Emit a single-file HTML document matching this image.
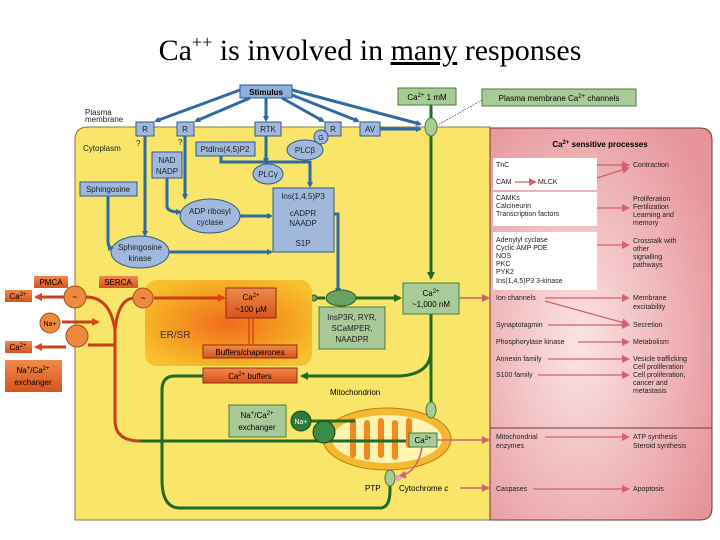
<!DOCTYPE html>
<html><head><meta charset="utf-8"><style>
html,body{margin:0;padding:0;background:#fff;}
svg{display:block;font-family:"Liberation Sans",sans-serif;}
</style></head><body>
<svg width="720" height="540" viewBox="0 0 720 540" xmlns="http://www.w3.org/2000/svg">
<defs>
<radialGradient id="er" cx="0.5" cy="0.5" r="0.6"><stop offset="0" stop-color="#f06a20"/><stop offset="0.6" stop-color="#f5a020"/><stop offset="1" stop-color="#f8c030"/></radialGradient>
<radialGradient id="pk" cx="0.4" cy="0.55" r="0.7"><stop offset="0" stop-color="#fbe4e4"/><stop offset="1" stop-color="#e6949a"/></radialGradient>
<linearGradient id="ob" x1="0" y1="0" x2="0" y2="1"><stop offset="0" stop-color="#f08a4a"/><stop offset="1" stop-color="#d8521c"/></linearGradient>
<marker id="ab" markerWidth="6" markerHeight="6" refX="4" refY="3" orient="auto" markerUnits="userSpaceOnUse"><path d="M0,0L6,3L0,6z" fill="#2e6ba3"/></marker>
<marker id="ag" markerWidth="8" markerHeight="8" refX="6" refY="4" orient="auto" markerUnits="userSpaceOnUse"><path d="M0,0L8,4L0,8z" fill="#1f6a24"/></marker>
<marker id="ao" markerWidth="8" markerHeight="8" refX="6" refY="4" orient="auto" markerUnits="userSpaceOnUse"><path d="M0,0L8,4L0,8z" fill="#d8461a"/></marker>
<marker id="ap" markerWidth="8" markerHeight="8" refX="6" refY="4" orient="auto" markerUnits="userSpaceOnUse"><path d="M0,0L8,4L0,8z" fill="#d86070"/></marker>
</defs>
<text x="370" y="60" font-family="Liberation Serif,serif" font-size="30" text-anchor="middle">Ca<tspan dy="-12" font-size="18">++</tspan><tspan dy="12"> is involved in </tspan><tspan text-decoration="underline">many</tspan> responses</text>

<!-- cell -->
<path d="M88,127 H490 V520 H75 V140 Q75,127 88,127z" fill="#f8e56a" stroke="#8a7a40" stroke-width="1"/>
<path d="M490,128 H700 Q712,128 712,140 V508 Q712,520 700,520 H490z" fill="url(#pk)" stroke="#6a3a3a" stroke-width="1"/>
<line x1="490" y1="428" x2="712" y2="428" stroke="#6a3a3a" stroke-width="1"/>
<text x="600" y="147" font-size="8" font-weight="bold" text-anchor="middle">Ca<tspan dy="-3" font-size="6">2+</tspan><tspan dy="3"> sensitive processes</tspan></text>
<rect x="493" y="158" width="104" height="32" fill="#fff"/>
<rect x="493" y="192" width="104" height="34" fill="#fff"/>
<rect x="493" y="232" width="104" height="58" fill="#fff"/>
<g font-size="7" fill="#222">
<text x="496" y="167">TnC</text><text x="496" y="184">CAM</text><text x="538" y="184">MLCK</text>
<text x="496" y="200">CAMKs</text><text x="496" y="208">Calcineurin</text><text x="496" y="216">Transcription factors</text>
<text x="496" y="242">Adenylyl cyclase</text><text x="496" y="250">Cyclic AMP PDE</text><text x="496" y="258">NOS</text><text x="496" y="266">PKC</text><text x="496" y="274">PYK2</text><text x="496" y="283">Ins(1,4,5)P3 3-kinase</text>
<text x="496" y="300">Ion channels</text><text x="496" y="327">Synaptotagmin</text><text x="496" y="344">Phosphorylase kinase</text><text x="496" y="361">Annexin family</text><text x="496" y="377">S100 family</text>
<text x="496" y="439">Mitochondrial</text><text x="496" y="448">enzymes</text><text x="496" y="491">Caspases</text>
<text x="633" y="167">Contraction</text>
<text x="633" y="201">Proliferation</text><text x="633" y="209">Fertilization</text><text x="633" y="217">Learning and</text><text x="633" y="225">memory</text>
<text x="633" y="243">Crosstalk with</text><text x="633" y="251">other</text><text x="633" y="259">signalling</text><text x="633" y="267">pathways</text>
<text x="633" y="300">Membrane</text><text x="633" y="309">excitability</text><text x="633" y="327">Secretion</text><text x="633" y="344">Metabolism</text>
<text x="633" y="361">Vesicle trafficking</text><text x="633" y="369">Cell proliferation</text>
<text x="633" y="377">Cell proliferation,</text><text x="633" y="385">cancer and</text><text x="633" y="393">metastasis</text>
<text x="633" y="439">ATP synthesis</text><text x="633" y="448">Steroid synthesis</text><text x="633" y="491">Apoptosis</text>
</g>
<g stroke="#d06070" stroke-width="1.2" marker-end="url(#ap)">
<line x1="597" y1="165" x2="628" y2="165"/><line x1="597" y1="178" x2="628" y2="168"/><line x1="515" y1="182" x2="535" y2="182"/>
<line x1="597" y1="208" x2="628" y2="208"/><line x1="597" y1="245" x2="628" y2="245"/>
<line x1="545" y1="298" x2="628" y2="298"/><line x1="545" y1="301" x2="628" y2="324"/><line x1="548" y1="325" x2="628" y2="325"/>
<line x1="578" y1="342" x2="628" y2="342"/><line x1="548" y1="359" x2="628" y2="359"/><line x1="538" y1="375" x2="628" y2="375"/>
<line x1="545" y1="437" x2="628" y2="437"/><line x1="533" y1="489" x2="628" y2="489"/>
</g>

<!-- top -->
<rect x="240" y="85" width="52" height="13" fill="#8fb0d8" stroke="#2e5a8a"/><text x="266" y="95" font-size="8" font-weight="bold" text-anchor="middle">Stimulus</text>
<g fill="#a0b8dc" stroke="#2e5a8a">
<rect x="136" y="122" width="18" height="14"/><rect x="177" y="122" width="17" height="14"/><rect x="255" y="122" width="26" height="14"/><rect x="325" y="122" width="16" height="14"/><rect x="360" y="122" width="20" height="14"/>
<rect x="196" y="142" width="59" height="14"/><rect x="152" y="152" width="30" height="26"/><rect x="80" y="182" width="57" height="14"/><rect x="273" y="188" width="61" height="64"/>
<ellipse cx="305" cy="150" rx="18" ry="10"/><circle cx="321" cy="137" r="7"/><ellipse cx="268" cy="174" rx="15" ry="10"/>
<ellipse cx="210" cy="216" rx="30" ry="17"/><ellipse cx="140" cy="252" rx="29" ry="16"/>
</g>
<g font-size="8" text-anchor="middle" fill="#222">
<text x="145" y="132">R</text><text x="185" y="132">R</text><text x="268" y="132">RTK</text><text x="333" y="132">R</text><text x="370" y="132">AV</text>
<text x="225" y="152">PtdIns(4,5)P2</text><text x="167" y="163">NAD</text><text x="167" y="174">NADP</text><text x="108" y="192">Sphingosine</text>
<text x="303" y="199">Ins(1,4,5)P3</text><text x="303" y="216">cADPR</text><text x="303" y="226">NAADP</text><text x="303" y="246">S1P</text>
<text x="305" y="153">PLCβ</text><text x="321" y="140" font-size="7">G</text><text x="268" y="177">PLCγ</text>
<text x="210" y="214">ADP ribosyl</text><text x="210" y="225">cyclase</text><text x="140" y="250">Sphingosine</text><text x="140" y="261">kinase</text>
</g>
<g font-size="8" fill="#222"><text x="85" y="115">Plasma</text><text x="85" y="122">membrane</text><text x="83" y="151">Cytoplasm</text><text x="136" y="146">?</text><text x="178" y="145">?</text></g>
<g stroke="#2e6ba3" stroke-width="3" fill="none" marker-end="url(#ab)">
<line x1="240" y1="90" x2="156" y2="121"/><line x1="250" y1="98" x2="196" y2="121"/><line x1="266" y1="98" x2="266" y2="120"/><line x1="282" y1="98" x2="323" y2="121"/><line x1="292" y1="95" x2="358" y2="121"/><line x1="292" y1="90" x2="420" y2="124"/>
<line x1="380" y1="129" x2="420" y2="129"/><line x1="266" y1="136" x2="266" y2="162"/>
<path d="M221,156 V162 H310 V186"/><line x1="145" y1="136" x2="145" y2="235"/><line x1="185" y1="136" x2="185" y2="198"/>
<path d="M167,178 V206 Q167,212 180,212"/><line x1="240" y1="216" x2="271" y2="216"/>
<path d="M108,196 V240 Q108,248 112,248"/><line x1="169" y1="252" x2="271" y2="252"/><path d="M334,214 H338 V292"/>
</g>

<!-- green channel -->
<rect x="398" y="88" width="58" height="17" fill="#a8cc98" stroke="#4a7a3a"/><text x="427" y="100" font-size="8" text-anchor="middle">Ca<tspan dy="-3" font-size="6">2+</tspan><tspan dy="3"> 1 mM</tspan></text>
<rect x="482" y="89" width="154" height="17" fill="#a8cc98" stroke="#4a7a3a"/><text x="559" y="101" font-size="8" text-anchor="middle">Plasma membrane Ca<tspan dy="-3" font-size="6">2+</tspan><tspan dy="3"> channels</tspan></text>
<line x1="436" y1="126" x2="482" y2="100" stroke="#333" stroke-width="0.6" stroke-dasharray="2,1"/>
<g stroke="#1f6a24" stroke-width="3" fill="none">
<line x1="431" y1="105" x2="431" y2="120"/><line x1="431" y1="135" x2="431" y2="278" marker-end="url(#ag)"/>
<line x1="355" y1="298" x2="400" y2="298" marker-end="url(#ag)"/><line x1="280" y1="298" x2="325" y2="298"/>
<path d="M431,314 V350 Q431,374 400,376 H302" marker-end="url(#ag)"/>
<path d="M431,314 V430" marker-end="url(#ag)"/>
<path d="M203,376 H175 Q162,376 162,390 V480 Q162,508 180,508 H380 Q390,508 390,490 V460 Q390,441 405,441" />
<line x1="140" y1="441" x2="406" y2="441"/>
<line x1="311" y1="421" x2="360" y2="421" marker-end="url(#ag)"/>
</g>
<ellipse cx="431" cy="127" rx="6" ry="9" fill="#a8cc98" stroke="#4a7a3a"/>
<ellipse cx="341" cy="298" rx="15" ry="8" fill="#6aa060" stroke="#2a5a2a"/><circle cx="314" cy="298" r="3" fill="#6aa060" stroke="#2a5a2a"/>
<rect x="319" y="307" width="66" height="42" fill="#a8c898" stroke="#4a7a3a"/>
<g font-size="8" text-anchor="middle" fill="#222"><text x="352" y="320">InsP3R, RYR,</text><text x="352" y="331">SCaMPER,</text><text x="352" y="342">NAADPR</text></g>
<rect x="403" y="283" width="56" height="31" fill="#a8cc98" stroke="#4a7a3a"/>
<text x="431" y="296" font-size="8" text-anchor="middle">Ca<tspan dy="-3" font-size="6">2+</tspan></text><text x="431" y="307" font-size="8" text-anchor="middle">~1,000 nM</text>
<line x1="459" y1="298" x2="488" y2="298" stroke="#d06070" stroke-width="1.5" marker-end="url(#ap)"/>

<!-- ER -->
<rect x="145" y="280" width="167" height="86" rx="12" fill="url(#er)"/>
<text x="160" y="338" font-size="10" fill="#333">ER/SR</text>
<rect x="226" y="288" width="50" height="30" fill="url(#ob)" stroke="#8a3010"/>
<text x="251" y="300" font-size="8" text-anchor="middle">Ca<tspan dy="-3" font-size="6">2+</tspan></text><text x="251" y="312" font-size="8" text-anchor="middle">~100 μM</text>
<rect x="203" y="345" width="94" height="13" fill="url(#ob)" stroke="#8a3010"/><text x="250" y="355" font-size="8" text-anchor="middle">Buffers/chaperones</text>
<line x1="249" y1="318" x2="249" y2="344" stroke="#d8461a" stroke-width="1.5"/><line x1="253" y1="318" x2="253" y2="344" stroke="#d8461a" stroke-width="1.5"/>
<rect x="203" y="368" width="94" height="15" fill="url(#ob)" stroke="#8a3010"/><text x="250" y="379" font-size="8" text-anchor="middle">Ca<tspan dy="-3" font-size="6">2+</tspan><tspan dy="3"> buffers</tspan></text>
<g stroke="#c8401a" stroke-width="3" fill="none">
<line x1="154" y1="298" x2="224" y2="298" marker-end="url(#ao)"/>
<line x1="64" y1="297" x2="36" y2="297" marker-end="url(#ao)"/>
<line x1="62" y1="322" x2="98" y2="322" marker-end="url(#ao)"/>
<line x1="66" y1="347" x2="36" y2="347" marker-end="url(#ao)"/>
<path d="M86,297 Q110,297 115,330 V420 Q115,441 140,441"/>
<path d="M133,298 Q118,300 115,330"/>
<line x1="88" y1="345" x2="115" y2="345"/>
</g>
<rect x="34" y="276" width="34" height="12" fill="url(#ob)"/><text x="51" y="285" font-size="8" text-anchor="middle">PMCA</text>
<rect x="99" y="276" width="39" height="12" fill="url(#ob)"/><text x="118" y="285" font-size="8" text-anchor="middle">SERCA</text>
<rect x="5" y="290" width="27" height="12" fill="url(#ob)"/><text x="18" y="299" font-size="8" text-anchor="middle">Ca<tspan dy="-3" font-size="6">2+</tspan></text>
<rect x="5" y="341" width="27" height="12" fill="url(#ob)"/><text x="18" y="350" font-size="8" text-anchor="middle">Ca<tspan dy="-3" font-size="6">2+</tspan></text>
<rect x="5" y="360" width="57" height="32" fill="url(#ob)"/><text x="33" y="373" font-size="8" text-anchor="middle">Na<tspan dy="-3" font-size="6">+</tspan><tspan dy="3">/Ca</tspan><tspan dy="-3" font-size="6">2+</tspan></text><text x="33" y="385" font-size="8" text-anchor="middle">exchanger</text>
<g fill="#ee8a40" stroke="#b04a10"><circle cx="75" cy="297" r="11"/><circle cx="143" cy="298" r="10"/><circle cx="50" cy="323" r="10"/><circle cx="77" cy="336" r="11"/></g>
<text x="75" y="300" font-size="9" text-anchor="middle">~</text><text x="143" y="301" font-size="9" text-anchor="middle">~</text><text x="50" y="326" font-size="7" text-anchor="middle">Na+</text>

<!-- Mito -->
<text x="330" y="395" font-size="8">Mitochondrion</text>
<ellipse cx="387" cy="439" rx="64" ry="31" fill="#f5b830" stroke="#c07a10"/>
<ellipse cx="387" cy="439" rx="55" ry="24" fill="#fff4b0"/>
<g fill="#f08a20"><rect x="350" y="418" width="6" height="40" rx="3"/><rect x="364" y="420" width="6" height="40" rx="3"/><rect x="378" y="418" width="6" height="40" rx="3"/><rect x="392" y="420" width="6" height="40" rx="3"/><rect x="406" y="418" width="6" height="30" rx="3"/></g>
<rect x="229" y="405" width="57" height="32" fill="#a8c898" stroke="#4a7a3a"/><text x="257" y="418" font-size="8" text-anchor="middle">Na<tspan dy="-3" font-size="6">+</tspan><tspan dy="3">/Ca</tspan><tspan dy="-3" font-size="6">2+</tspan></text><text x="257" y="430" font-size="8" text-anchor="middle">exchanger</text>
<g stroke="#1f6a24" stroke-width="3"><line x1="300" y1="441" x2="406" y2="441"/><line x1="311" y1="421" x2="355" y2="421"/></g>
<circle cx="301" cy="421" r="10" fill="#2e7a38" stroke="#154a1a"/><text x="301" y="424" font-size="7" text-anchor="middle" fill="#fff">Na+</text>
<circle cx="324" cy="432" r="11" fill="#3a8a48" stroke="#154a1a"/>
<ellipse cx="431" cy="410" rx="5" ry="8" fill="#a8cc98" stroke="#4a7a3a"/>
<rect x="409" y="433" width="28" height="14" fill="#a8cc98" stroke="#4a7a3a"/><text x="423" y="443" font-size="8" text-anchor="middle">Ca<tspan dy="-3" font-size="6">2+</tspan></text>
<line x1="437" y1="440" x2="488" y2="440" stroke="#d06070" stroke-width="1.5" marker-end="url(#ap)"/>
<path d="M422,447 Q418,472 400,476" stroke="#d06070" stroke-width="1.5" fill="none" marker-end="url(#ap)"/>
<ellipse cx="390" cy="478" rx="5" ry="8" fill="#a8cc98" stroke="#4a7a3a"/><circle cx="398" cy="478" r="3" fill="#f0a0b0"/>
<text x="365" y="491" font-size="8">PTP</text><text x="399" y="491" font-size="8">Cytochrome <tspan font-style="italic">c</tspan></text>
<line x1="460" y1="488" x2="488" y2="488" stroke="#d06070" stroke-width="1.5" marker-end="url(#ap)"/>
</svg>
</body></html>
